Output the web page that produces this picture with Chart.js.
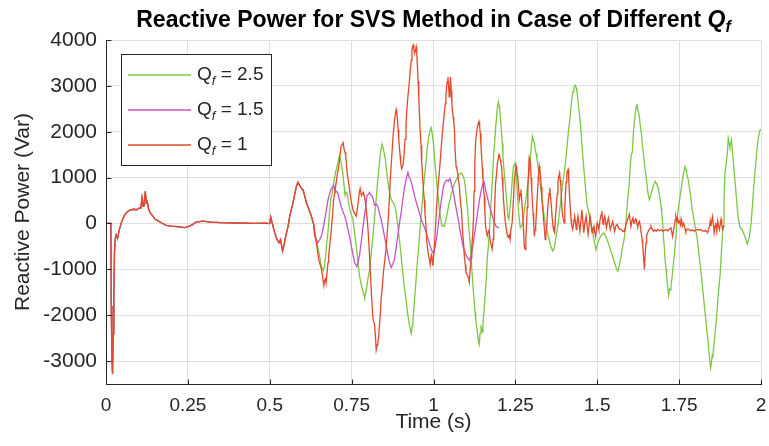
<!DOCTYPE html>
<html>
<head>
<meta charset="utf-8">
<script src="https://cdn.jsdelivr.net/npm/chart.js@4.4.1/dist/chart.umd.min.js"></script>
<style>
  html, body { margin: 0; padding: 0; background: #fff; }
  canvas { display: block; }
</style>
</head>
<body>
<canvas id="chart" width="769" height="446"></canvas>
<script>
// axis ticks
const xTicks = [0, 0.25, 0.5, 0.75, 1, 1.25, 1.5, 1.75, 2];
const xTickLabels = ['0', '0.25', '0.5', '0.75', '1', '1.25', '1.5', '1.75', '2'];
const yTicks = [-3000, -2000, -1000, 0, 1000, 2000, 3000, 4000];
const yTickLabels = ['-3000', '-2000', '-1000', '0', '1000', '2000', '3000', '4000'];

// legend values of Q_f
const qfValues = ['2.5', '1.5', '1'];

// start-up transient, same for every Q_f  [time (s), reactive power (Var)]
const sharedPoints = [
  [0,0],[0.015,0],[0.016,-1800],[0.018,-2900],[0.02,-3280],[0.022,-2400],[0.024,-1500],[0.026,-600],
  [0.029,-300],[0.031,-250],[0.035,-330],[0.041,-130],[0.046,0],[0.051,90],[0.056,170],[0.062,230],
  [0.07,280],[0.077,300],[0.085,310],[0.093,300],[0.102,340],[0.106,330],[0.11,560],[0.113,380],
  [0.116,420],[0.12,700],[0.123,450],[0.126,480],[0.13,320],[0.135,230],[0.143,160],[0.15,90],
  [0.16,50],[0.17,10],[0.184,-40],[0.2,-60],[0.215,-70],[0.23,-80],[0.24,-90],[0.255,-60],
  [0.265,-20],[0.275,30],[0.296,50],[0.32,30],[0.35,20],[0.4,10],[0.45,0],[0.49,5],[0.497,-5],
  [0.5,0],[0.503,140],[0.506,50],[0.51,-60],[0.515,-200],[0.522,-350],[0.528,-420],[0.533,-350],
  [0.539,-600],[0.543,-490],[0.549,-270],[0.556,-60],[0.561,160],[0.566,300],[0.571,450],[0.576,630],
  [0.581,800],[0.586,900],[0.591,830],[0.597,760],[0.602,730],[0.612,450],[0.62,300],[0.627,160],[0.634,-20]
];

// Q_f = 2.5 after the split
const greenPoints = [
  [0.638,-200],[0.642,-350],[0.646,-480],[0.65,-630],[0.654,-780],[0.657,-920],[0.66,-980],[0.663,-1030],
  [0.666,-950],[0.668,-850],[0.671,-700],[0.673,-490],[0.677,-250],[0.68,15],[0.683,280],[0.686,520],
  [0.69,640],[0.693,760],[0.697,950],[0.701,1115],[0.704,1200],[0.708,1330],[0.711,1420],[0.713,1480],
  [0.716,1400],[0.718,1330],[0.721,1200],[0.724,1040],[0.727,820],[0.73,610],[0.733,680],[0.736,660],
  [0.74,480],[0.744,300],[0.749,200],[0.754,90],[0.759,-200],[0.764,-490],[0.769,-800],[0.774,-1140],
  [0.779,-1320],[0.785,-1500],[0.788,-1560],[0.79,-1600],[0.793,-1500],[0.795,-1430],[0.8,-1200],[0.805,-1000],
  [0.81,-640],[0.815,-270],[0.819,50],[0.823,370],[0.827,700],[0.83,970],[0.834,1250],[0.837,1480],
  [0.84,1620],[0.843,1730],[0.846,1650],[0.849,1550],[0.853,1400],[0.856,1190],[0.86,950],[0.864,760],
  [0.868,600],[0.871,520],[0.875,480],[0.878,450],[0.882,380],[0.886,230],[0.891,-50],[0.896,-350],
  [0.901,-700],[0.906,-1070],[0.911,-1400],[0.917,-1710],[0.921,-1950],[0.925,-2150],[0.929,-2300],[0.932,-2400],
  [0.935,-2250],[0.937,-2150],[0.94,-1850],[0.943,-1570],[0.946,-1300],[0.949,-1000],[0.952,-750],[0.955,-490],
  [0.958,-200],[0.962,160],[0.966,480],[0.969,760],[0.973,1050],[0.977,1330],[0.981,1650],[0.986,1910],
  [0.99,2040],[0.993,2090],[0.996,1960],[0.999,1800],[1.003,1460],[1.006,1200],[1.01,880],[1.014,600],
  [1.018,300],[1.022,100],[1.026,-60],[1.03,-40],[1.033,-60],[1.037,50],[1.04,150],[1.044,300],
  [1.048,450],[1.053,600],[1.058,740],[1.063,850],[1.069,950],[1.073,1000],[1.077,1060],[1.081,1080],
  [1.084,1100],[1.088,1070],[1.091,1030],[1.094,950],[1.097,810],[1.1,600],[1.104,300],[1.107,0],
  [1.111,-350],[1.114,-650],[1.117,-1000],[1.12,-1280],[1.122,-1500],[1.125,-1750],[1.127,-1930],[1.129,-2100],
  [1.131,-2220],[1.134,-2380],[1.136,-2510],[1.138,-2580],[1.14,-2620],[1.142,-2400],[1.145,-2220],[1.147,-2300],
  [1.149,-2370],[1.151,-2150],[1.154,-1930],[1.157,-1650],[1.159,-1430],[1.162,-1100],[1.164,-780],[1.168,-450],
  [1.171,-130],[1.174,250],[1.177,590],[1.18,1000],[1.184,1530],[1.187,1800],[1.19,2110],[1.193,2350],
  [1.195,2540],[1.198,2650],[1.2,2580],[1.202,2470],[1.205,2250],[1.207,2040],[1.21,1750],[1.212,1460],
  [1.215,1200],[1.218,950],[1.221,700],[1.224,450],[1.227,150],[1.23,90],[1.233,300],[1.237,600],
  [1.24,900],[1.244,1250],[1.249,1320],[1.252,1100],[1.254,890],[1.257,550],[1.26,230],[1.265,-95],
  [1.268,-60],[1.272,-20],[1.277,250],[1.282,520],[1.287,800],[1.292,1100],[1.296,1450],[1.299,1700],
  [1.302,1900],[1.305,1820],[1.308,1750],[1.31,1650],[1.313,1530],[1.316,1400],[1.318,1310],[1.322,1050],
  [1.328,740],[1.333,450],[1.338,160],[1.343,-50],[1.348,-200],[1.353,-350],[1.358,-490],[1.364,-600],
  [1.367,-560],[1.37,-490],[1.374,-300],[1.378,-130],[1.383,150],[1.387,380],[1.391,650],[1.395,890],
  [1.4,1150],[1.404,1400],[1.408,1700],[1.412,2000],[1.416,2250],[1.42,2550],[1.423,2760],[1.426,2880],
  [1.429,2970],[1.433,3010],[1.436,2950],[1.438,2870],[1.441,2700],[1.443,2540],[1.447,2300],[1.45,2040],
  [1.453,1750],[1.456,1460],[1.459,1200],[1.462,950],[1.465,700],[1.468,450],[1.474,230],[1.48,15],
  [1.485,-170],[1.49,-350],[1.493,-450],[1.496,-570],[1.499,-500],[1.502,-420],[1.506,-350],[1.51,-280],
  [1.515,-240],[1.52,-200],[1.525,-270],[1.53,-350],[1.535,-450],[1.54,-570],[1.545,-680],[1.55,-790],
  [1.555,-900],[1.559,-1000],[1.563,-1040],[1.566,-950],[1.569,-860],[1.573,-700],[1.576,-560],[1.582,-350],
  [1.586,-100],[1.59,250],[1.594,600],[1.598,900],[1.601,1300],[1.604,1500],[1.607,1550],[1.611,2040],
  [1.616,2400],[1.619,2550],[1.621,2600],[1.624,2470],[1.628,2360],[1.631,2150],[1.635,1960],[1.638,1700],
  [1.642,1460],[1.645,1250],[1.649,1030],[1.652,850],[1.655,660],[1.659,520],[1.662,580],[1.665,660],
  [1.669,760],[1.672,845],[1.675,880],[1.677,920],[1.68,880],[1.682,845],[1.685,800],[1.687,740],
  [1.69,620],[1.692,520],[1.695,350],[1.697,230],[1.7,0],[1.702,-270],[1.705,-550],[1.707,-780],
  [1.71,-1000],[1.712,-1140],[1.715,-1400],[1.718,-1570],[1.721,-1430],[1.723,-1450],[1.725,-1360],[1.728,-1200],
  [1.73,-1070],[1.733,-850],[1.736,-640],[1.74,-300],[1.743,15],[1.746,250],[1.75,450],[1.753,600],
  [1.756,740],[1.759,900],[1.762,1030],[1.765,1150],[1.768,1240],[1.771,1180],[1.773,1100],[1.776,1000],
  [1.778,950],[1.781,800],[1.784,660],[1.787,480],[1.79,300],[1.794,150],[1.797,15],[1.8,-120],
  [1.804,-270],[1.808,-500],[1.811,-700],[1.815,-950],[1.819,-1210],[1.823,-1500],[1.827,-1790],[1.831,-2050],
  [1.834,-2300],[1.838,-2550],[1.841,-2800],[1.844,-3000],[1.846,-3150],[1.849,-3020],[1.851,-2870],[1.853,-2900],
  [1.856,-2660],[1.859,-2450],[1.862,-2220],[1.866,-1900],[1.869,-1570],[1.872,-1350],[1.875,-1140],[1.879,-640],
  [1.884,-60],[1.887,500],[1.89,1100],[1.893,1250],[1.895,1390],[1.898,1600],[1.9,1860],[1.903,1750],
  [1.905,1680],[1.908,1750],[1.91,1820],[1.913,1550],[1.916,1310],[1.919,1050],[1.922,810],[1.925,550],
  [1.928,300],[1.931,100],[1.935,-60],[1.938,-100],[1.942,-130],[1.946,-200],[1.95,-270],[1.954,-350],
  [1.958,-450],[1.961,-380],[1.964,-310],[1.967,-150],[1.97,15],[1.974,400],[1.978,810],[1.981,1050],
  [1.984,1310],[1.987,1550],[1.991,1820],[1.994,1950],[1.997,2040],[2.0,2050]
];

// Q_f = 1.5 after the split
const purplePoints = [
  [0.637,-270],[0.642,-350],[0.647,-420],[0.652,-360],[0.658,-270],[0.663,-100],[0.668,90],[0.673,300],
  [0.678,520],[0.683,650],[0.688,760],[0.692,800],[0.695,840],[0.698,760],[0.701,680],[0.705,700],
  [0.708,660],[0.713,500],[0.718,370],[0.724,250],[0.729,160],[0.734,30],[0.739,-130],[0.744,-300],
  [0.749,-490],[0.754,-680],[0.759,-850],[0.763,-900],[0.766,-940],[0.77,-820],[0.774,-700],[0.779,-420],
  [0.784,-130],[0.788,100],[0.793,370],[0.797,610],[0.801,640],[0.805,680],[0.808,620],[0.812,610],
  [0.816,520],[0.82,400],[0.825,420],[0.83,370],[0.835,220],[0.84,90],[0.845,-80],[0.85,-270],
  [0.856,-500],[0.861,-700],[0.866,-850],[0.871,-960],[0.876,-880],[0.881,-780],[0.886,-520],[0.891,-270],
  [0.896,0],[0.901,230],[0.906,500],[0.911,760],[0.916,950],[0.922,1115],[0.926,1000],[0.929,970],
  [0.933,880],[0.937,760],[0.942,600],[0.947,470],[0.952,350],[0.957,230],[0.962,100],[0.967,10],
  [0.972,-80],[0.978,-200],[0.984,-350],[0.99,-500],[0.995,-600],[1.0,-650],[1.005,-500],[1.01,-300],
  [1.015,0],[1.02,300],[1.025,550],[1.03,800],[1.035,900],[1.04,950],[1.045,920],[1.05,980],
  [1.055,850],[1.06,700],[1.065,500],[1.07,300],[1.075,100],[1.08,-100],[1.085,-300],[1.09,-500],
  [1.095,-600],[1.1,-700],[1.105,-760],[1.11,-800],[1.115,-680],[1.12,-500],[1.125,-250],[1.13,0],
  [1.135,250],[1.14,500],[1.145,700],[1.15,850],[1.155,900],[1.16,700],[1.165,560],[1.17,400],
  [1.175,280],[1.18,150],[1.185,40],[1.19,-50],[1.195,-80],[1.2,-100]
];

// Q_f = 1 after the split
const redPoints = [
  [0.638,-250],[0.642,-420],[0.646,-600],[0.65,-810],[0.655,-920],[0.658,-1000],[0.661,-1140],[0.665,-1350],
  [0.667,-1250],[0.67,-1210],[0.672,-1300],[0.675,-1070],[0.678,-850],[0.68,-700],[0.684,-400],[0.688,-130],
  [0.692,200],[0.695,520],[0.699,700],[0.703,900],[0.707,1100],[0.711,1260],[0.714,1450],[0.718,1690],
  [0.721,1720],[0.724,1760],[0.727,1620],[0.73,1550],[0.732,1480],[0.736,1120],[0.739,980],[0.742,830],
  [0.746,600],[0.749,470],[0.754,300],[0.759,220],[0.764,160],[0.768,350],[0.771,520],[0.774,700],
  [0.776,760],[0.78,610],[0.783,650],[0.786,680],[0.79,550],[0.793,400],[0.797,150],[0.8,-130],
  [0.804,-600],[0.807,-1070],[0.811,-1600],[0.815,-2070],[0.818,-2150],[0.82,-2200],[0.823,-2500],[0.825,-2760],
  [0.828,-2650],[0.83,-2580],[0.833,-2450],[0.835,-2220],[0.838,-1950],[0.84,-1640],[0.844,-1350],[0.847,-1070],
  [0.852,-750],[0.856,-490],[0.861,15],[0.865,500],[0.868,970],[0.872,1400],[0.876,1840],[0.879,2100],
  [0.881,2270],[0.884,2400],[0.886,2480],[0.888,2400],[0.89,2270],[0.892,2050],[0.894,1840],[0.896,1650],
  [0.898,1480],[0.9,1300],[0.903,1190],[0.906,1250],[0.908,1330],[0.911,1600],[0.913,1840],[0.916,2150],
  [0.918,2410],[0.921,2700],[0.924,2920],[0.927,3150],[0.929,3350],[0.932,3550],[0.934,3780],[0.936,3850],
  [0.938,3890],[0.94,3800],[0.942,3710],[0.945,3780],[0.947,3850],[0.949,3700],[0.951,3420],[0.953,3100],
  [0.955,2770],[0.957,2400],[0.959,2050],[0.962,1700],[0.964,1330],[0.967,1000],[0.969,760],[0.972,500],
  [0.974,230],[0.977,-50],[0.979,-350],[0.982,-550],[0.985,-700],[0.988,-800],[0.99,-900],[0.993,-700],
  [0.994,-650],[0.996,-800],[0.998,-920],[1.0,-750],[1.003,-500],[1.006,-100],[1.009,300],[1.013,740],
  [1.017,1050],[1.02,1310],[1.023,1600],[1.026,1890],[1.03,2180],[1.033,2400],[1.036,2610],[1.038,2800],
  [1.04,2970],[1.042,3100],[1.044,3190],[1.046,3000],[1.048,2760],[1.05,2950],[1.052,3190],[1.054,2900],
  [1.056,2610],[1.058,2450],[1.06,2320],[1.062,2200],[1.064,2040],[1.066,1600],[1.069,1240],[1.071,1200],
  [1.074,1100],[1.076,950],[1.079,810],[1.082,500],[1.086,230],[1.089,-200],[1.092,-450],[1.094,-700],
  [1.097,-900],[1.099,-1070],[1.102,-1100],[1.104,-1140],[1.107,-1200],[1.109,-1280],[1.112,-1000],[1.115,-750],
  [1.117,-490],[1.12,-200],[1.122,90],[1.124,700],[1.126,1310],[1.129,1820],[1.131,1950],[1.134,2110],
  [1.137,2180],[1.139,2220],[1.141,2100],[1.143,1960],[1.145,1700],[1.147,1460],[1.149,1200],[1.151,950],
  [1.153,750],[1.155,590],[1.157,250],[1.159,-60],[1.162,-200],[1.164,-270],[1.167,-180],[1.169,-130],
  [1.172,-300],[1.174,-420],[1.177,-500],[1.179,-560],[1.182,-350],[1.184,-130],[1.187,400],[1.189,810],
  [1.192,1050],[1.195,1310],[1.198,1420],[1.2,1500],[1.202,1450],[1.204,1390],[1.206,1300],[1.208,1240],
  [1.21,1000],[1.212,740],[1.214,500],[1.216,300],[1.219,50],[1.222,-100],[1.225,-250],[1.228,-300],
  [1.231,-250],[1.234,-350],[1.237,-100],[1.24,0],[1.244,500],[1.247,960],[1.25,1150],[1.252,1250],
  [1.254,1150],[1.257,1030],[1.26,750],[1.262,520],[1.265,650],[1.267,740],[1.27,450],[1.272,230],
  [1.275,-150],[1.277,-490],[1.28,-570],[1.282,-300],[1.284,-60],[1.286,350],[1.288,740],[1.29,1100],
  [1.292,1430],[1.294,1380],[1.296,1320],[1.298,1000],[1.3,740],[1.302,450],[1.304,230],[1.306,0],
  [1.308,-280],[1.31,-150],[1.312,-60],[1.315,350],[1.318,740],[1.32,1000],[1.323,1250],[1.325,1150],
  [1.327,1030],[1.329,800],[1.331,520],[1.334,300],[1.336,90],[1.339,-150],[1.341,-350],[1.343,-250],
  [1.346,-60],[1.348,250],[1.351,520],[1.353,650],[1.355,780],[1.357,600],[1.36,380],[1.362,150],
  [1.365,-60],[1.367,-150],[1.37,-200],[1.372,100],[1.375,380],[1.378,650],[1.38,890],[1.382,1000],
  [1.385,1100],[1.387,950],[1.389,810],[1.391,500],[1.393,230],[1.396,100],[1.399,15],[1.401,350],
  [1.403,670],[1.405,900],[1.407,1100],[1.409,1150],[1.411,1180],[1.413,950],[1.415,670],[1.417,400],
  [1.42,90],[1.422,-50],[1.425,-130],[1.428,0],[1.431,160],[1.434,0],[1.436,-130],[1.438,0],
  [1.441,160],[1.444,0],[1.447,-170],[1.45,50],[1.453,300],[1.456,50],[1.459,-200],[1.462,0],
  [1.466,160],[1.469,-50],[1.472,-240],[1.475,-50],[1.478,160],[1.481,0],[1.484,-200],[1.487,-100],
  [1.49,-60],[1.492,-180],[1.495,-280],[1.498,-100],[1.5,15],[1.503,-60],[1.505,-130],[1.508,50],
  [1.512,200],[1.514,270],[1.516,100],[1.518,-20],[1.52,80],[1.523,160],[1.526,20],[1.528,-95],
  [1.531,20],[1.534,120],[1.537,0],[1.54,-130],[1.544,-30],[1.547,50],[1.55,-50],[1.553,-170],
  [1.557,-50],[1.561,-20],[1.565,-100],[1.569,-130],[1.573,-130],[1.578,-170],[1.583,-170],[1.588,-20],
  [1.593,90],[1.598,200],[1.603,-60],[1.606,60],[1.609,120],[1.612,0],[1.614,15],[1.617,100],
  [1.619,90],[1.622,-40],[1.624,-60],[1.627,30],[1.629,50],[1.632,-80],[1.634,-200],[1.637,-350],
  [1.639,-490],[1.642,-800],[1.644,-1000],[1.646,-700],[1.649,-420],[1.651,-250],[1.654,-200],[1.657,-150],
  [1.659,-130],[1.662,-100],[1.664,-60],[1.668,-130],[1.672,-170],[1.676,-140],[1.68,-170],[1.685,-130],
  [1.69,-160],[1.695,-140],[1.7,-170],[1.705,-150],[1.71,-130],[1.715,-160],[1.72,-120],[1.725,-95],
  [1.728,-200],[1.73,-280],[1.733,-150],[1.735,-60],[1.738,80],[1.74,160],[1.743,60],[1.745,120],
  [1.748,20],[1.751,50],[1.754,-30],[1.756,90],[1.758,0],[1.76,-60],[1.763,10],[1.765,-20],
  [1.768,-120],[1.77,-170],[1.775,-120],[1.78,-130],[1.785,-160],[1.79,-140],[1.796,-170],[1.801,-140],
  [1.806,-130],[1.811,-150],[1.816,-130],[1.821,-160],[1.826,-170],[1.831,-150],[1.837,-200],[1.84,-120],
  [1.843,-60],[1.845,50],[1.847,-60],[1.85,60],[1.852,145],[1.855,-50],[1.857,-200],[1.86,-50],
  [1.862,15],[1.865,-170],[1.868,50],[1.87,-40],[1.873,-130],[1.876,0],[1.878,90],[1.88,-20],
  [1.883,-130],[1.886,-60],[1.888,-50]
];

const lineColors = ['#7cc744', '#c452c8', '#e3492a'];
const textColor = '#262626';
const fontFamily = '"Liberation Sans", Arial, Helvetica, sans-serif';

function toXY(points) {
    return points.map(p => ({ x: p[0], y: p[1] }));
}

// title with the italic Q and subscript f
const titlePlugin = {
    id: 'titleQf',
    afterDraw(chart) {
        const ctx = chart.ctx;
        const area = chart.chartArea;
        const main = 'Reactive Power for SVS Method in Case of Different ';
        ctx.save();
        ctx.fillStyle = '#000';
        ctx.textBaseline = 'alphabetic';
        ctx.font = 'bold 23px ' + fontFamily;
        const w1 = ctx.measureText(main).width;
        ctx.font = 'italic bold 23px ' + fontFamily;
        const w2 = ctx.measureText('Q').width;
        ctx.font = 'italic bold 16px ' + fontFamily;
        const w3 = ctx.measureText('f').width;
        let x = (area.left + area.right) / 2 - (w1 + w2 + w3) / 2;
        const y = 27;
        ctx.font = 'bold 23px ' + fontFamily;
        ctx.fillText(main, x, y);
        x += w1;
        ctx.font = 'italic bold 23px ' + fontFamily;
        ctx.fillText('Q', x, y);
        x += w2;
        ctx.font = 'italic bold 16px ' + fontFamily;
        ctx.fillText('f', x, y + 5);
        ctx.restore();
    }
};

// black left/bottom axis lines with inward ticks, like the original figure
const axesPlugin = {
    id: 'matlabAxes',
    afterDatasetsDraw(chart) {
        const ctx = chart.ctx;
        const area = chart.chartArea;
        const xs = chart.scales.x;
        const ys = chart.scales.y;
        const left = Math.round(area.left) + 0.5;
        const bottom = Math.round(area.bottom) + 0.5;
        ctx.save();
        ctx.strokeStyle = textColor;
        ctx.lineWidth = 1;
        ctx.beginPath();
        ctx.moveTo(left, Math.round(area.top));
        ctx.lineTo(left, bottom);
        ctx.lineTo(Math.round(area.right) + 1, bottom);
        xTicks.forEach(v => {
            const px = Math.round(xs.getPixelForValue(v)) + 0.5;
            ctx.moveTo(px, bottom);
            ctx.lineTo(px, bottom - 5);
        });
        yTicks.forEach(v => {
            const py = Math.round(ys.getPixelForValue(v)) + 0.5;
            ctx.moveTo(left, py);
            ctx.lineTo(left + 5, py);
        });
        ctx.stroke();
        ctx.restore();
    }
};

// boxed legend with Q_f subscripts
const legendPlugin = {
    id: 'legendQf',
    afterDraw(chart) {
        const ctx = chart.ctx;
        ctx.save();
        ctx.fillStyle = '#fff';
        ctx.fillRect(121.5, 54.5, 150, 111);
        ctx.strokeStyle = textColor;
        ctx.lineWidth = 1;
        ctx.strokeRect(121.5, 54.5, 150, 111);
        qfValues.forEach((q, i) => {
            const y = 75 + i * 35;
            ctx.strokeStyle = lineColors[i];
            ctx.lineWidth = 1.3;
            ctx.beginPath();
            ctx.moveTo(128, y);
            ctx.lineTo(191, y);
            ctx.stroke();
            ctx.fillStyle = textColor;
            ctx.textBaseline = 'alphabetic';
            let x = 197;
            ctx.font = '19px ' + fontFamily;
            ctx.fillText('Q', x, y + 5);
            x += ctx.measureText('Q').width;
            ctx.font = 'italic 13px ' + fontFamily;
            ctx.fillText('f', x, y + 10);
            x += ctx.measureText('f').width;
            ctx.font = '19px ' + fontFamily;
            ctx.fillText(' = ' + q, x, y + 5);
        });
        ctx.restore();
    }
};

const ctx = document.getElementById('chart').getContext('2d');

new Chart(ctx, {
    type: 'line',
    data: {
        datasets: [
            {
                label: 'Qf = 1',
                data: toXY(sharedPoints.concat(redPoints)),
                borderColor: lineColors[2],
                borderWidth: 1.3,
                pointRadius: 0,
                tension: 0,
                fill: false
            },
            {
                label: 'Qf = 1.5',
                data: toXY(sharedPoints.concat(purplePoints)),
                borderColor: lineColors[1],
                borderWidth: 1.3,
                pointRadius: 0,
                tension: 0,
                fill: false
            },
            {
                label: 'Qf = 2.5',
                data: toXY(sharedPoints.concat(greenPoints)),
                borderColor: lineColors[0],
                borderWidth: 1.3,
                pointRadius: 0,
                tension: 0,
                fill: false
            }
        ]
    },
    options: {
        responsive: false,
        animation: false,
        devicePixelRatio: 1,
        layout: { padding: { left: 0, right: 8, top: 40, bottom: 0 } },
        plugins: {
            legend: { display: false },
            title: { display: false },
            tooltip: { enabled: false }
        },
        scales: {
            x: {
                type: 'linear',
                min: 0,
                max: 2,
                afterBuildTicks: s => { s.ticks = xTicks.map(v => ({ value: v })); },
                afterFit: s => {
                    s.height = 62;
                    s.paddingLeft = 0;
                    s.paddingRight = 0;
                },
                ticks: {
                    autoSkip: false,
                    maxRotation: 0,
                    padding: 10,
                    color: textColor,
                    font: { family: fontFamily, size: 19 },
                    callback: (v, i) => xTickLabels[i]
                },
                grid: { color: '#dfdfdf', drawTicks: false },
                border: { display: false },
                title: {
                    display: true,
                    text: 'Time (s)',
                    color: textColor,
                    font: { family: fontFamily, size: 21 },
                    padding: { top: 0, bottom: 11 }
                }
            },
            y: {
                type: 'linear',
                min: -3500,
                max: 4000,
                afterBuildTicks: s => { s.ticks = yTicks.map(v => ({ value: v })); },
                afterFit: s => { s.width = 106; },
                ticks: {
                    autoSkip: false,
                    padding: 9,
                    color: textColor,
                    font: { family: fontFamily, size: 21 },
                    callback: (v, i) => yTickLabels[i]
                },
                grid: { color: '#dfdfdf', drawTicks: false },
                border: { display: false },
                title: {
                    display: true,
                    text: 'Reactive Power (Var)',
                    color: textColor,
                    font: { family: fontFamily, size: 21 },
                    padding: { top: 11, bottom: 0 }
                }
            }
        }
    },
    plugins: [axesPlugin, titlePlugin, legendPlugin]
});
</script>
</body>
</html>
